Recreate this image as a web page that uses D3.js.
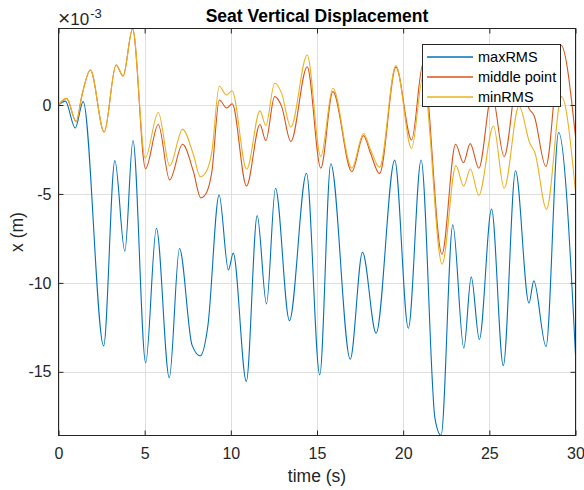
<!DOCTYPE html>
<html>
<head>
<meta charset="utf-8">
<script src="https://cdn.jsdelivr.net/npm/d3@7"></script>
<style>
  body { margin: 0; background: #fff; }
  text { font-family: "Liberation Sans", Arial, Helvetica, sans-serif; }
</style>
</head>
<body>
<svg id="chart" width="584" height="490"></svg>
<script>
// Seat vertical displacement, values in units of 1e-3 m, time in seconds.
const maxRMS_t = [0, 0.4, 0.97, 1.43, 2.62, 3.27, 3.85, 4.32, 5.06, 5.68, 6.43, 7.02, 7.75, 8.23, 8.67, 9.32, 9.86, 10.14,
  10.9, 11.53, 12.07, 12.59, 13.4, 14.39, 15.16, 15.8, 16.93, 17.64, 18.43, 19.51, 20.3, 21.04, 21.85, 22.2,
  22.88, 23.52, 23.95, 24.42, 25.13, 25.81, 26.52, 27.3, 27.58, 28.29, 29.02, 30];
const maxRMS_x = [0, 0.22, -1.29, 0.19, -13.54, -3.13, -8.22, -2.0, -14.5, -6.93, -15.33, -8.07, -13.5, -14.1, -12.4, -5.06, -9.27, -8.33,
  -15.54, -6.22, -11.18, -4.68, -12.12, -3.84, -15.17, -3.3, -14.29, -8.28, -12.83, -3.1, -12.55, -3.09, -17.65, -18.58,
  -6.74, -13.67, -9.66, -13.18, -5.85, -14.65, -3.7, -11.14, -9.89, -13.58, -1.55, -14.04];

const middle_t = [0, 0.47, 1.03, 1.35, 1.85, 2.65, 3.34, 3.75, 4.3, 5.05, 5.79, 6.45, 7.2, 7.83, 8.25, 8.57, 8.9, 9.33, 9.76, 10.08,
  10.91, 11.69, 12.03, 12.54, 12.95, 13.48, 14.43, 15.22, 15.92, 17.02, 17.7, 18.1, 18.63, 19.58, 20.49, 21.15,
  22.25, 23.04, 23.5, 23.89, 24.39, 25.15, 25.86, 26.7, 27.3, 27.6, 28.28, 29.15, 30];
const middle_x = [0, 0.37, -0.94, 0.5, 1.97, -1.52, 2.25, 1.63, 4.28, -3.58, -1.1, -4.21, -2.21, -3.75, -5.22, -4.96, -3.75, 0.28, -0.17, 0.07,
  -4.55, -1.1, -2.0, 0.47, -0.09, -2.06, 2.15, -3.55, 0.75, -3.75, -1.72, -2.7, -3.86, 2.13, -1.97, 2.3,
  -8.39, -2.21, -3.25, -2.17, -3.56, 0.6, -2.9, 1.9, -0.2, -0.6, -3.46, 3.37, -1.78];

const minRMS_t = [0, 0.47, 1.03, 1.35, 1.85, 2.65, 3.34, 3.75, 4.3, 5.03, 5.79, 6.45, 7.2, 7.83, 8.23, 8.57, 8.9, 9.33, 9.75, 10.07,
  10.92, 11.69, 12.03, 12.54, 12.94, 13.48, 14.43, 15.22, 15.92, 17.02, 17.7, 18.1, 18.63, 19.58, 20.49, 21.15,
  22.26, 23.06, 23.51, 23.9, 24.39, 25.24, 25.86, 26.72, 27.35, 27.65, 28.32, 29.19, 30];
const minRMS_x = [0, 0.37, -0.94, 0.5, 1.97, -1.52, 2.25, 1.63, 4.3, -2.98, -0.42, -3.42, -1.37, -2.8, -4.03, -3.75, -2.62, 1.05, 0.56, 0.8,
  -3.61, -0.33, -1.15, 1.22, 0.68, -1.24, 2.81, -2.9, 0.94, -3.55, -1.6, -2.5, -3.5, 2.22, -2.45, 1.6,
  -8.95, -3.41, -4.56, -3.6, -5.08, -1.18, -4.68, -0.05, -2.15, -2.7, -5.86, 0.47, -4.87];

const seriesNames = ["maxRMS", "middle point", "minRMS"];
const seriesColors = ["#0072BD", "#D95319", "#EDB120"];
const xTicks = [0, 5, 10, 15, 20, 25, 30];
const yTicks = [-15, -10, -5, 0];

const series = [
  { name: seriesNames[0], color: seriesColors[0], t: maxRMS_t, v: maxRMS_x },
  { name: seriesNames[1], color: seriesColors[1], t: middle_t, v: middle_x },
  { name: seriesNames[2], color: seriesColors[2], t: minRMS_t, v: minRMS_x }
];

const svg = d3.select("#chart");
const box = { left: 58.5, right: 575.5, top: 28.5, bottom: 435.5 };
const ink = "#262626";

const x = d3.scaleLinear().domain([0, 30]).range([box.left, box.right]);
const y = d3.scaleLinear()
  .domain(d3.extent([...maxRMS_x, ...middle_x, ...minRMS_x]))
  .range([box.bottom, box.top]);

// grid
svg.append("g").selectAll("line.gx").data(xTicks).join("line")
  .attr("x1", d => Math.round(x(d)) + 0.5).attr("x2", d => Math.round(x(d)) + 0.5)
  .attr("y1", box.top).attr("y2", box.bottom)
  .attr("stroke", "#dfdfdf").attr("stroke-width", 1);
svg.append("g").selectAll("line.gy").data(yTicks).join("line")
  .attr("y1", d => Math.round(y(d)) + 0.5).attr("y2", d => Math.round(y(d)) + 0.5)
  .attr("x1", box.left).attr("x2", box.right)
  .attr("stroke", "#dfdfdf").attr("stroke-width", 1);

// data lines
svg.append("clipPath").attr("id", "plotclip").append("rect")
  .attr("x", box.left).attr("y", box.top - 1)
  .attr("width", box.right - box.left).attr("height", box.bottom - box.top + 2);

const line = d3.line().curve(d3.curveMonotoneX);
const plot = svg.append("g").attr("clip-path", "url(#plotclip)");
series.forEach(s => {
  const pts = s.t.map((t, i) => [x(t), y(s.v[i])]);
  plot.append("path")
    .attr("d", line(pts))
    .attr("fill", "none")
    .attr("stroke", s.color)
    .attr("stroke-width", 1.1)
    .attr("stroke-linejoin", "round");
});

// axes (ticks inward on all four sides)
const fmt = d => String(d);
svg.append("g").attr("transform", `translate(0,${box.bottom})`)
  .call(d3.axisBottom(x).tickValues(xTicks).tickFormat(fmt).tickSize(-5).tickPadding(12))
  .call(g => g.select(".domain").remove())
  .call(g => g.selectAll("line").attr("stroke", ink))
  .call(g => g.selectAll("text").attr("fill", ink).style("font-size", "16px")
    .style("font-family", '"Liberation Sans", Arial, sans-serif'));
svg.append("g").attr("transform", `translate(0,${box.top})`)
  .call(d3.axisTop(x).tickValues(xTicks).tickFormat("").tickSize(-5))
  .call(g => g.select(".domain").remove())
  .call(g => g.selectAll("line").attr("stroke", ink));
svg.append("g").attr("transform", `translate(${box.left},0)`)
  .call(d3.axisLeft(y).tickValues(yTicks).tickFormat(fmt).tickSize(-5).tickPadding(7))
  .call(g => g.select(".domain").remove())
  .call(g => g.selectAll("line").attr("stroke", ink))
  .call(g => g.selectAll("text").attr("fill", ink).style("font-size", "16px")
    .style("font-family", '"Liberation Sans", Arial, sans-serif'));
svg.append("g").attr("transform", `translate(${box.right},0)`)
  .call(d3.axisRight(y).tickValues(yTicks).tickFormat("").tickSize(-5))
  .call(g => g.select(".domain").remove())
  .call(g => g.selectAll("line").attr("stroke", ink));

svg.append("rect")
  .attr("x", box.left).attr("y", box.top)
  .attr("width", box.right - box.left).attr("height", box.bottom - box.top)
  .attr("fill", "none").attr("stroke", ink).attr("stroke-width", 1);

// exponent marker
const expo = svg.append("text").attr("x", 58).attr("y", 25).attr("fill", ink).style("font-size", "17px");
expo.append("tspan").style("font-size", "21px").text("\u00d7");
expo.append("tspan").text("10");
expo.append("tspan").attr("dy", -7).attr("dx", 1).style("font-size", "13px").text("-3");

// title and axis labels
svg.append("text").attr("x", (box.left + box.right) / 2).attr("y", 22)
  .attr("text-anchor", "middle").attr("fill", "#000")
  .style("font-size", "17.5px").style("font-weight", "bold")
  .text("Seat Vertical Displacement");
svg.append("text").attr("x", (box.left + box.right) / 2).attr("y", 482)
  .attr("text-anchor", "middle").attr("fill", ink).style("font-size", "17.5px")
  .text("time (s)");
svg.append("text")
  .attr("transform", `translate(23,${(box.top + box.bottom) / 2}) rotate(-90)`)
  .attr("text-anchor", "middle").attr("fill", ink).style("font-size", "17.5px")
  .text("x (m)");

// legend
const lg = svg.append("g");
lg.append("rect").attr("x", 422.5).attr("y", 44.5).attr("width", 138).attr("height", 62)
  .attr("fill", "#fff").attr("stroke", ink).attr("stroke-width", 1);
series.forEach((s, i) => {
  const yy = 57 + i * 20;
  lg.append("line").attr("x1", 427).attr("x2", 473).attr("y1", yy).attr("y2", yy)
    .attr("stroke", s.color).attr("stroke-width", 1.4);
  lg.append("text").attr("x", 478).attr("y", yy + 5).attr("fill", "#000")
    .style("font-size", "14.5px").text(s.name);
});
</script>
</body>
</html>
